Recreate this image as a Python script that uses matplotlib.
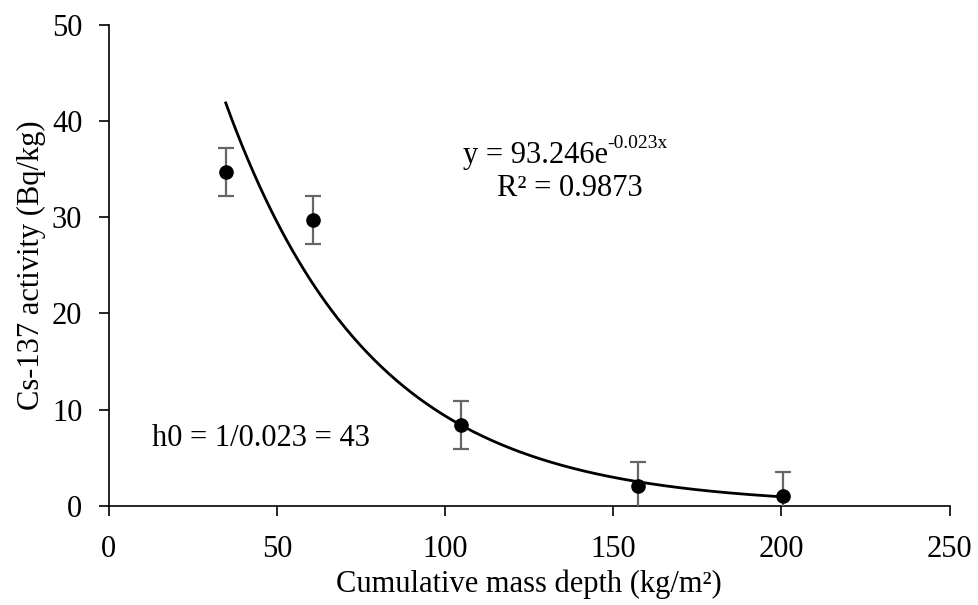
import numpy as np
import matplotlib.pyplot as plt

plt.rcParams["font.family"] = ["Liberation Serif", "DejaVu Serif"]

# measured points
depth = [34.8, 60.8, 104.6, 157.3, 200.5]
activity = [34.7, 29.7, 8.4, 2.1, 1.0]
err = [2.5, 2.5, 2.5, 2.5, 2.5]

# exponential trendline shown on the chart
a_coef = 93.246
b_coef = 0.023

fig = plt.figure(figsize=(9.79, 6.05), dpi=100)
ax = fig.add_axes([0.111, 0.164, 0.859, 0.795])

x_fit = np.linspace(depth[0], depth[-1], 300)
ax.plot(x_fit, a_coef * np.exp(-b_coef * x_fit), color="black", linewidth=2)

ax.errorbar(depth, activity, yerr=err, fmt="o", color="black", markersize=9.5,
            ecolor="#666666", elinewidth=1.6, capsize=6, capthick=1.6, zorder=3)

ax.set_xlim(0, 250)
ax.set_ylim(0, 50)
ax.set_xticks([0, 50, 100, 150, 200, 250])
ax.set_yticks([0, 10, 20, 30, 40, 50])
ax.tick_params(labelsize=22, direction="out", length=7, width=1.2)
ax.tick_params(axis="x", pad=14)
ax.tick_params(axis="y", pad=12)
ax.spines["top"].set_visible(False)
ax.spines["right"].set_visible(False)
ax.spines["left"].set_linewidth(1.2)
ax.spines["bottom"].set_linewidth(1.2)

ax.set_xlabel("Cumulative mass depth (kg/m²)", fontsize=22, labelpad=4)
ax.set_ylabel("Cs-137 activity (Bq/kg)", fontsize=22, labelpad=4)

# trendline equation, exponent as a separate smaller text
eq = ax.text(0.421, 0.728, "y = 93.246e", transform=ax.transAxes,
             ha="left", va="center", fontsize=22)
ax.annotate("-0.023x", xy=(1, 0.62), xycoords=eq, ha="left", va="bottom",
            fontsize=14)
ax.text(0.548, 0.659, "R² = 0.9873", transform=ax.transAxes,
        ha="center", va="center", fontsize=22)
ax.text(0.052, 0.14, "h0 = 1/0.023 = 43", transform=ax.transAxes,
        ha="left", va="center", fontsize=22)

plt.savefig("out.png", dpi=100)
